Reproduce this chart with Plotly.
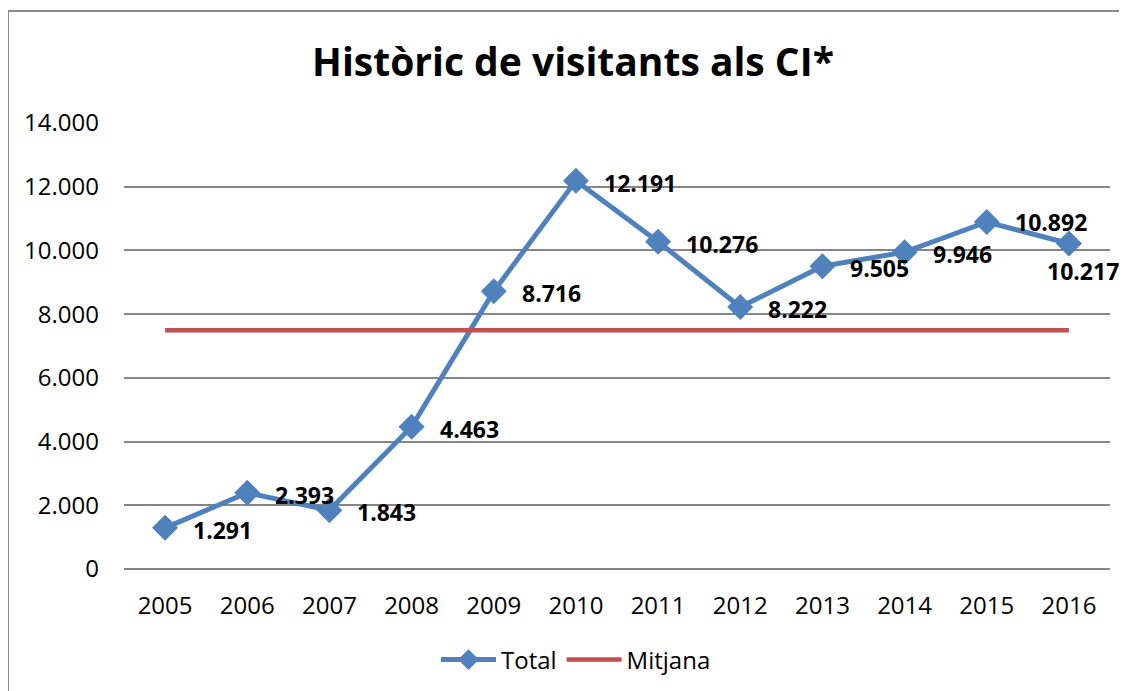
import plotly.graph_objects as go

years = ["2005", "2006", "2007", "2008", "2009", "2010", "2011", "2012", "2013", "2014", "2015", "2016"]
total = [1291, 2393, 1843, 4463, 8716, 12191, 10276, 8222, 9505, 9946, 10892, 10217]
mitjana = [7496, 7496, 7496, 7496, 7496, 7496, 7496, 7496, 7496, 7496, 7496, 7496]
y_ticks = [0, 2000, 4000, 6000, 8000, 10000, 12000, 14000]

W, H = 1127, 691
OFF = 8  # page body offset
L, R, T, B = 124 - OFF, 17 + OFF, 123 - OFF, 122 + OFF
pw, ph = W - L - R, H - T - B

FONT = "Open Sans"
BLUE = "#4F81BD"
RED = "#C0504D"
GRID = "#868686"

def fmt(v):
    return f"{v:,}".replace(",", ".")

def px_x(p):
    return (p - OFF - L) / pw

def px_y(p):
    return (H - B - (p - OFF)) / ph

fig = go.Figure()
fig.add_trace(go.Scatter(
    x=years, y=total, name="Total", mode="lines+markers",
    line=dict(color=BLUE, width=5),
    marker=dict(symbol="diamond", size=20, color=BLUE),
))
fig.add_trace(go.Scatter(
    x=years, y=mitjana, name="Mitjana", mode="lines",
    line=dict(color=RED, width=4.5),
))

# data label offsets (pixel shifts relative to each point)
shifts = {"2016": (-24, -27), "2015": (26, 0)}
for i, (yr, v) in enumerate(zip(years, total)):
    xs, ys = shifts.get(yr, (26, -2))
    fig.add_annotation(
        x=i, y=v, xref="x", yref="y", text="<b>" + fmt(v) + "</b>", showarrow=False,
        xanchor="left", yanchor="middle", xshift=xs, yshift=ys,
        font=dict(family=FONT, size=23, color="#000000"),
    )

# outer chart border (left/top visible, right/bottom cut off)
fig.add_shape(
    type="rect", xref="paper", yref="paper",
    x0=px_x(8), x1=px_x(1150),
    y0=px_y(710), y1=px_y(11),
    line=dict(color="#8C8C8C", width=2), fillcolor="rgba(0,0,0,0)", layer="below",
)

fig.update_layout(
    width=W, height=H,
    margin=dict(l=L, r=R, t=T, b=B, pad=0),
    paper_bgcolor="white", plot_bgcolor="white",
    separators=",.",
    font=dict(family=FONT, size=24, color="#000000"),
    title=dict(
        text="<b>Històric de visitants als CI*</b>",
        x=px_x(573), xref="paper", xanchor="center",
        y=1 - (62 - OFF) / H, yref="container", yanchor="middle",
        font=dict(family=FONT, size=39, color="#000000"),
    ),
    xaxis=dict(
        type="category", showgrid=False, showline=False, zeroline=False,
        ticks="", ticklabelstandoff=20, range=[-0.5, 11.5],
        tickfont=dict(family=FONT, size=24),
    ),
    yaxis=dict(
        range=[0, 14000], tickvals=y_ticks, tickformat=",d",
        showgrid=True, gridcolor=GRID, gridwidth=1.5,
        zeroline=True, zerolinecolor=GRID, zerolinewidth=1.5,
        showline=False, ticks="", ticklabelstandoff=24,
        tickfont=dict(family=FONT, size=24),
    ),
    legend=dict(
        orientation="h", x=px_x(576), xanchor="center",
        y=px_y(660), yanchor="middle",
        font=dict(family=FONT, size=24), itemwidth=55,
        bgcolor="rgba(0,0,0,0)",
    ),
    showlegend=True,
)

fig.write_html("out.html")
